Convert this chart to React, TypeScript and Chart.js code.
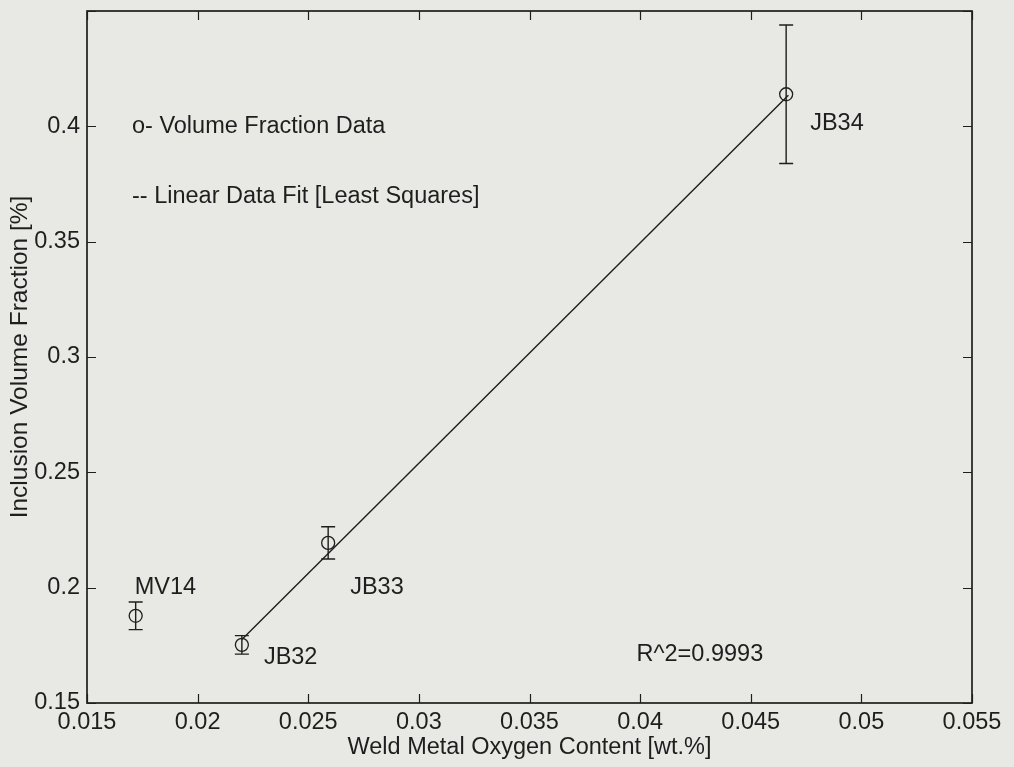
import React, { useEffect, useRef } from "react";
import { Chart, registerables } from "chart.js";

Chart.register(...registerables);

// ---- data ----
const SAMPLE_NAMES = ["MV14", "JB32", "JB33", "JB34"];
const OXYGEN_WT = [0.0172, 0.022, 0.0259, 0.0466];
const VOLUME_FRACTION = [0.1878, 0.1752, 0.2194, 0.4139];
const VF_ERROR = [0.006, 0.004, 0.007, 0.03];

const FIT_X = [0.022, 0.0467];
const FIT_Y = [0.1775, 0.4135];

const X_TICKS = [0.015, 0.02, 0.025, 0.03, 0.035, 0.04, 0.045, 0.05, 0.055];
const X_TICK_LABELS = ["0.015", "0.02", "0.025", "0.03", "0.035", "0.04", "0.045", "0.05", "0.055"];
const Y_TICKS = [0.15, 0.2, 0.25, 0.3, 0.35, 0.4, 0.45];
const Y_TICK_LABELS = ["0.15", "0.2", "0.25", "0.3", "0.35", "0.4", ""];

const X_TITLE = "Weld Metal Oxygen Content [wt.%]";
const Y_TITLE = "Inclusion Volume Fraction [%]";
const LEGEND_LINES = ["o- Volume Fraction Data", "-- Linear Data Fit [Least Squares]"];
const R2_TEXT = "R^2=0.9993";
const R2_ANCHOR = [0.0427, 0.171];

// ---- styles ----
const FONT_FAMILY = "'Liberation Sans', Arial, Helvetica, sans-serif";
const FONT_SIZE = 23.5;
const Y_TITLE_SIZE = 24.5;
const INK = "#1e1e1e";
const BG = "#e8e8e4";
const LABEL_OFFSETS: [number, number][] = [
  [-1, -28],
  [22, 13],
  [22, 45],
  [24, 29],
];

const decorPlugin = {
  id: "decor",
  beforeDraw(chart: any) {
    const { ctx, width, height } = chart;
    ctx.save();
    ctx.fillStyle = BG;
    ctx.fillRect(0, 0, width, height);
    ctx.restore();
  },
  afterDatasetsDraw(chart: any) {
    const { ctx, chartArea } = chart;
    const xs = chart.scales.x;
    const ys = chart.scales.y;
    const { left, right, top, bottom } = chartArea;
    ctx.save();
    ctx.strokeStyle = INK;
    // frame
    ctx.lineWidth = 1.7;
    ctx.strokeRect(left, top, right - left, bottom - top);
    // inward ticks
    ctx.lineWidth = 1.2;
    const tl = 9;
    X_TICKS.forEach((v) => {
      const px = Math.round(xs.getPixelForValue(v)) + 0.5;
      ctx.beginPath();
      ctx.moveTo(px, bottom);
      ctx.lineTo(px, bottom - tl);
      ctx.moveTo(px, top);
      ctx.lineTo(px, top + tl);
      ctx.stroke();
    });
    Y_TICKS.forEach((v) => {
      const py = Math.round(ys.getPixelForValue(v)) + 0.5;
      ctx.beginPath();
      ctx.moveTo(left, py);
      ctx.lineTo(left + tl, py);
      ctx.moveTo(right, py);
      ctx.lineTo(right - tl, py);
      ctx.stroke();
    });
    // error bars
    ctx.lineWidth = 1.4;
    const cap = 7;
    OXYGEN_WT.forEach((x, i) => {
      const px = xs.getPixelForValue(x);
      const y0 = ys.getPixelForValue(VOLUME_FRACTION[i] - VF_ERROR[i]);
      const y1 = ys.getPixelForValue(VOLUME_FRACTION[i] + VF_ERROR[i]);
      ctx.beginPath();
      ctx.moveTo(px, y0);
      ctx.lineTo(px, y1);
      ctx.moveTo(px - cap, y0);
      ctx.lineTo(px + cap, y0);
      ctx.moveTo(px - cap, y1);
      ctx.lineTo(px + cap, y1);
      ctx.stroke();
    });
    // text
    ctx.fillStyle = INK;
    ctx.font = `${FONT_SIZE}px ${FONT_FAMILY}`;
    ctx.textBaseline = "middle";
    ctx.textAlign = "left";
    SAMPLE_NAMES.forEach((name, i) => {
      const px = xs.getPixelForValue(OXYGEN_WT[i]);
      const py = ys.getPixelForValue(VOLUME_FRACTION[i]);
      ctx.fillText(name, px + LABEL_OFFSETS[i][0], py + LABEL_OFFSETS[i][1]);
    });
    LEGEND_LINES.forEach((t, i) => {
      ctx.fillText(t, left + 45, top + 116 + i * 70);
    });
    ctx.textAlign = "center";
    ctx.fillText(R2_TEXT, xs.getPixelForValue(R2_ANCHOR[0]), ys.getPixelForValue(R2_ANCHOR[1]));
    ctx.restore();
  },
};

export default function App() {
  const ref = useRef<HTMLCanvasElement | null>(null);
  useEffect(() => {
    document.body.style.margin = "0";
    const font = { family: FONT_FAMILY, size: FONT_SIZE };
    const chart = new Chart(ref.current as HTMLCanvasElement, {
      type: "scatter",
      data: {
        datasets: [
          {
            type: "line",
            label: "fit",
            data: FIT_X.map((x, i) => ({ x, y: FIT_Y[i] })),
            borderColor: INK,
            borderWidth: 1.4,
            pointRadius: 0,
            fill: false,
          } as any,
          {
            label: "data",
            data: OXYGEN_WT.map((x, i) => ({ x, y: VOLUME_FRACTION[i] })),
            pointStyle: "circle",
            pointRadius: 6.5,
            pointBackgroundColor: "rgba(0,0,0,0)",
            pointBorderColor: INK,
            pointBorderWidth: 1.3,
          },
        ],
      },
      options: {
        animation: false,
        responsive: true,
        maintainAspectRatio: false,
        layout: { padding: { top: 11, right: 42, left: 0, bottom: 0 } },
        plugins: { legend: { display: false }, tooltip: { enabled: false } },
        scales: {
          x: {
            type: "linear",
            min: 0.015,
            max: 0.055,
            afterBuildTicks: (s: any) => {
              s.ticks = X_TICKS.map((v) => ({ value: v }));
            },
            afterFit: (s: any) => {
              s.height = 64;
              s.paddingLeft = 0;
              s.paddingRight = 0;
            },
            ticks: {
              autoSkip: false,
              maxRotation: 0,
              padding: 5,
              color: INK,
              font,
              callback: (v: any) => X_TICK_LABELS[X_TICKS.findIndex((t) => Math.abs(t - v) < 1e-9)],
            },
            grid: { display: false, drawTicks: false },
            border: { display: false },
            title: { display: true, text: X_TITLE, color: INK, font, padding: { top: 0, bottom: 5 } },
          },
          y: {
            type: "linear",
            min: 0.15,
            max: 0.45,
            afterBuildTicks: (s: any) => {
              s.ticks = Y_TICKS.map((v) => ({ value: v }));
            },
            afterFit: (s: any) => {
              s.width = 87;
              s.paddingTop = 0;
              s.paddingBottom = 0;
            },
            ticks: {
              autoSkip: false,
              padding: 7,
              color: INK,
              font,
              callback: (v: any) => Y_TICK_LABELS[Y_TICKS.findIndex((t) => Math.abs(t - v) < 1e-9)],
            },
            grid: { display: false, drawTicks: false },
            border: { display: false },
            title: {
              display: true,
              text: Y_TITLE,
              color: INK,
              font: { family: FONT_FAMILY, size: Y_TITLE_SIZE },
              padding: { top: 6, bottom: 0 },
            },
          },
        },
      },
      plugins: [decorPlugin],
    } as any);
    return () => chart.destroy();
  }, []);
  return (
    <div style={{ position: "absolute", left: 0, top: 0, width: 1014, height: 767 }}>
      <canvas ref={ref} />
    </div>
  );
}
